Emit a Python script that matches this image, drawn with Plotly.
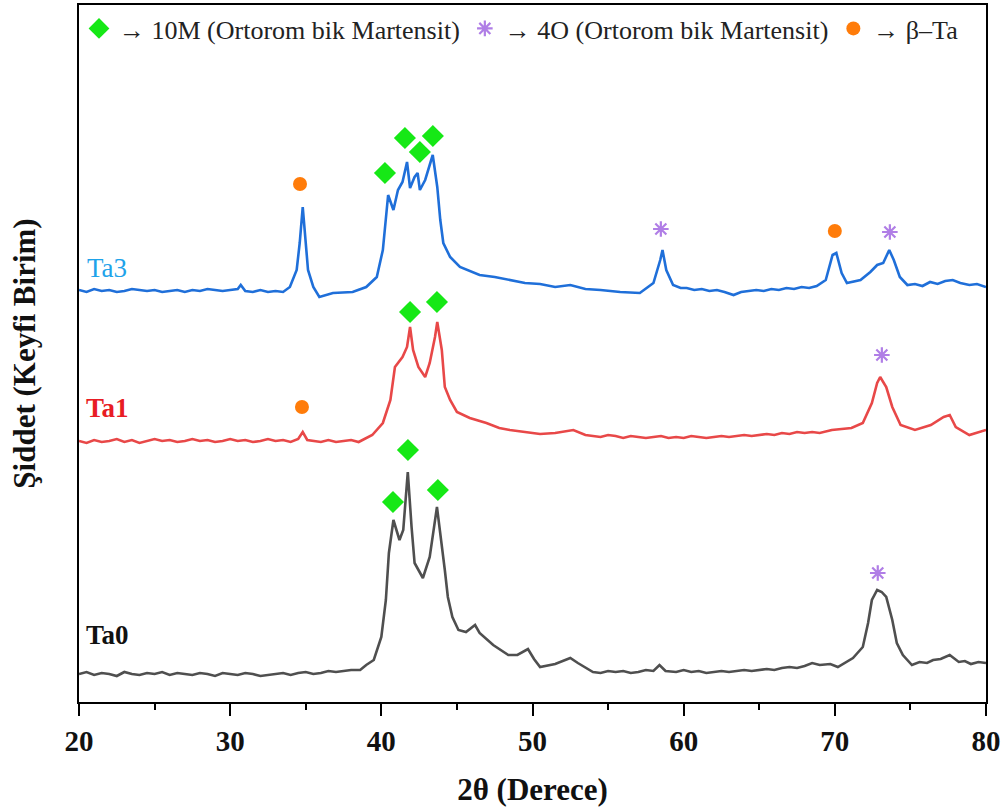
import plotly.graph_objects as go

# ---------------- data ----------------
# 2-theta (degrees) and intensity (arbitrary units, patterns stacked)
ta0_x = [20.0, 20.5, 21.0, 21.5, 22.0, 22.5, 23.0, 23.5, 24.0, 24.5, 25.0, 25.5, 26.0, 26.5, 27.0,
         27.5, 28.0, 28.5, 29.0, 29.5, 30.0, 30.5, 31.0, 31.5, 32.0, 32.5, 33.0, 33.5, 34.0, 34.5,
         35.0, 35.5, 36.0, 36.5, 37.0, 37.5, 38.0, 38.6, 39.0, 39.5, 40.0, 40.3, 40.5, 40.8, 41.2,
         41.45, 41.75, 42.0, 42.2, 42.75, 43.2, 43.68, 43.95, 44.2, 44.4, 44.7, 45.1, 45.6, 46.2,
         46.5, 47.4, 48.4, 49.0, 49.7, 50.1, 50.5, 51.5, 52.5, 53.0, 54.0, 54.5, 55.0, 55.5, 56.0,
         56.5, 57.0, 57.5, 58.0, 58.4, 58.8, 59.5, 60.0, 60.5, 61.0, 61.5, 62.0, 62.5, 63.0, 63.5,
         64.0, 64.5, 65.0, 65.5, 66.0, 66.5, 67.0, 67.5, 68.0, 68.5, 69.0, 69.7, 70.2, 71.2,
         71.85, 72.2, 72.45, 72.8, 73.1, 73.4, 73.8, 74.1, 74.5, 75.1, 75.6, 76.1, 76.5, 77.0,
         77.6, 78.2, 78.6, 79.0, 79.5, 80.0]
ta0_y = [28, 30, 27, 29, 28, 26, 30, 28, 27, 29, 28, 30, 27, 29, 28,
         27, 29, 28, 26, 29, 28, 27, 29, 28, 26, 27, 28, 29, 27, 29,
         30, 28, 29, 31, 30, 31, 32, 32, 37, 42, 65, 102, 149, 182, 162,
         172, 230, 175, 139, 124, 145, 195, 165, 132, 105, 85, 72, 70, 77,
         69, 57, 47, 47, 53, 43, 35, 38, 44, 39, 30, 29, 31, 30, 31,
         29, 30, 32, 31, 37, 31, 30, 32, 30, 31, 29, 30, 31, 30, 31,
         32, 31, 32, 33, 32, 34, 35, 34, 36, 39, 37, 38, 35, 44,
         55, 79, 102, 112, 110, 105, 82, 59, 47, 37, 40, 39, 42, 43,
         47, 40, 41, 38, 40, 39]

ta1_x = [20.0, 20.5, 21.0, 21.5, 22.0, 22.5, 23.0, 23.5, 24.0, 24.5, 25.0, 25.5, 26.0, 26.5, 27.0,
         27.5, 28.0, 28.5, 29.0, 29.5, 30.0, 30.5, 31.0, 31.5, 32.0, 32.5, 33.0, 33.5, 34.0, 34.5,
         34.8, 35.1, 35.5, 36.0, 36.5, 37.0, 37.5, 38.0, 38.5, 39.4, 40.1, 40.6, 40.9, 41.4, 41.7,
         41.9, 42.1, 42.45, 42.9, 43.2, 43.55, 43.7, 44.0, 44.2, 44.55, 45.0, 45.85, 46.95, 47.8,
         48.5, 49.5, 50.5, 51.5, 52.7, 53.5, 54.0, 54.5, 55.0, 55.5, 56.0, 56.5, 57.0, 57.5, 58.0,
         58.5, 59.0, 59.5, 60.0, 60.5, 61.0, 61.5, 62.0, 62.5, 63.0, 63.5, 64.0, 64.5, 65.0, 65.5,
         66.0, 66.5, 67.0, 67.5, 68.0, 68.5, 69.0, 69.8, 71.1, 71.85, 72.45, 72.8, 73.0, 73.4,
         73.8, 74.35, 75.3, 76.35, 77.2, 77.6, 78.0, 78.9, 80.0]
ta1_y = [261, 259, 262, 260, 261, 263, 260, 262, 259, 261, 263, 261, 262, 260, 261,
         263, 261, 262, 260, 261, 263, 261, 262, 260, 261, 263, 261, 262, 260, 263,
         270, 262, 261, 260, 262, 260, 261, 262, 260, 267, 279, 302, 335, 345, 355,
         375, 352, 335, 325, 339, 365, 380, 352, 315, 302, 290, 284, 279, 274,
         272, 270, 268, 269, 272, 267, 266, 265, 267, 266, 264, 266, 265, 264, 265,
         266, 264, 265, 264, 266, 265, 264, 265, 266, 265, 266, 267, 266, 267, 268,
         267, 269, 268, 270, 269, 270, 269, 272, 274, 279, 299, 319, 325, 315,
         295, 277, 272, 277, 285, 287, 275, 267, 272]

ta3_x = [20.0, 20.5, 21.0, 21.5, 22.0, 22.5, 23.0, 23.5, 24.0, 24.5, 25.0, 25.5, 26.0, 26.5, 27.0,
         27.5, 28.0, 28.5, 29.0, 29.5, 30.0, 30.5, 30.7, 31.0, 31.5, 32.0, 32.5, 33.0, 33.5,
         33.95, 34.4, 34.6, 34.8, 34.95, 35.15, 35.5, 35.9, 36.8, 38.1, 39.0, 39.7, 40.1, 40.35,
         40.45, 40.8, 41.1, 41.4, 41.7, 41.9, 42.2, 42.4, 42.55, 42.9, 43.4, 43.7, 43.9, 44.1,
         44.55, 45.2, 46.1, 46.5, 47.5, 48.5, 49.5, 50.5, 51.5, 52.5, 53.5, 54.5, 55.8, 57.1,
         58.0, 58.45, 58.6, 58.85, 59.3, 59.8, 60.2, 60.7, 61.2, 61.7, 62.2, 62.7, 63.3, 63.8,
         64.3, 64.8, 65.3, 65.8, 66.3, 66.8, 67.3, 67.8, 68.3, 68.8, 69.4, 69.85, 70.1,
         70.45, 70.8, 71.7, 72.35, 72.8, 73.2, 73.6, 73.9, 74.3, 74.8, 75.3, 75.8, 76.3, 76.8,
         77.3, 77.8, 78.3, 78.9, 79.4, 80.0]
ta3_y = [412, 410, 413, 411, 412, 410, 411, 413, 412, 411, 412, 410, 411, 412, 410,
         412, 411, 413, 412, 411, 412, 413, 417, 411, 410, 412, 410, 411, 410,
         415, 432, 459, 495, 465, 432, 415, 405, 409, 410, 415, 425, 452, 492,
         507, 492, 512, 520, 540, 514, 525, 529, 512, 522, 547, 515, 482, 459,
         445, 435, 429, 427, 425, 422, 419, 418, 415, 417, 413, 412, 410, 409,
         419, 442, 452, 432, 417, 414, 414, 412, 413, 411, 412, 410, 407, 410,
         411, 412, 411, 413, 412, 414, 413, 415, 414, 416, 422, 447, 449,
         429, 419, 422, 430, 437, 439, 452, 442, 425, 417, 418, 416, 420, 418,
         421, 422, 419, 417, 418, 415]

# phase markers
m10_x = [40.24, 41.56, 42.55, 43.41, 41.9, 43.68, 40.77, 41.76, 43.74]
m10_y = [529, 564, 550, 566, 390, 400, 200, 252, 212]
m4o_x = [58.49, 73.64, 73.11, 72.84]
m4o_y = [473, 470, 347, 129]
bta_x = [34.62, 70.0, 34.75]
bta_y = [518, 471, 295]

legend_names = ["\u2192 10M (Ortorom bik Martensit)",
                "\u2192 4O (Ortorom bik Martensit)",
                "\u2192 \u03b2\u2013Ta"]
series_labels = ["Ta3", "Ta1", "Ta0"]
x_ticks = [20, 30, 40, 50, 60, 70, 80]

FONT = "Liberation Serif, Times New Roman, serif"

fig = go.Figure()
line_w = 2.6
fig.add_trace(go.Scatter(x=ta3_x, y=ta3_y, mode="lines", line=dict(color="#1f6fd9", width=line_w),
                         showlegend=False, name="Ta3"))
fig.add_trace(go.Scatter(x=ta1_x, y=ta1_y, mode="lines", line=dict(color="#e84848", width=line_w),
                         showlegend=False, name="Ta1"))
fig.add_trace(go.Scatter(x=ta0_x, y=ta0_y, mode="lines", line=dict(color="#4f4f4f", width=line_w),
                         showlegend=False, name="Ta0"))

fig.add_trace(go.Scatter(x=m10_x, y=m10_y, mode="markers", name=legend_names[0],
                         marker=dict(symbol="diamond", size=17, color="#16e816")))
fig.add_trace(go.Scatter(x=m4o_x, y=m4o_y, mode="markers", name=legend_names[1],
                         marker=dict(symbol="asterisk-open", size=13, color="#b07ee6",
                                     line=dict(color="#b07ee6", width=2.2))))
fig.add_trace(go.Scatter(x=bta_x, y=bta_y, mode="markers", name=legend_names[2],
                         marker=dict(symbol="circle", size=14, color="#ff7c0a")))

# series labels
fig.add_annotation(x=20.4, y=434, text=series_labels[0], showarrow=False, xanchor="left",
                   font=dict(family=FONT, size=27, color="#1ea3ea"))
fig.add_annotation(x=20.3, y=294, text="<b>%s</b>" % series_labels[1], showarrow=False, xanchor="left",
                   font=dict(family=FONT, size=27, color="#e81c24"))
fig.add_annotation(x=20.3, y=67, text="<b>%s</b>" % series_labels[2], showarrow=False, xanchor="left",
                   font=dict(family=FONT, size=27, color="#111111"))

fig.update_layout(
    width=1004, height=809,
    margin=dict(l=79, r=18, t=5, b=107, autoexpand=False),
    paper_bgcolor="white", plot_bgcolor="white",
    font=dict(family=FONT, color="#111111"),
    legend=dict(orientation="h", x=0.0, xanchor="left", y=1.0, yanchor="top",
                font=dict(family=FONT, size=26, color="#222222"),
                bgcolor="rgba(0,0,0,0)", itemclick=False, tracegroupgap=0),
    showlegend=True,
)
fig.update_xaxes(range=[20, 80], tickvals=x_ticks, ticktext=[str(v) for v in x_ticks],
                 automargin=False,
                 showline=True, linecolor="black", linewidth=1.6, mirror=True,
                 ticks="outside", ticklen=12, tickwidth=1.6, tickcolor="black",
                 minor=dict(ticks="outside", ticklen=6, tickwidth=1.6, tickcolor="black", dtick=5),
                 showgrid=False, zeroline=False,
                 tickfont=dict(family=FONT, size=29, color="#111111", weight="bold"),
                 title=dict(text="<b>2\u03b8 (Derece)</b>", standoff=23,
                            font=dict(family=FONT, size=31, color="#111111")))
fig.update_yaxes(range=[0, 697], automargin=False,
                 showline=True, linecolor="black", linewidth=1.6, mirror=True,
                 showticklabels=False, ticks="", showgrid=False, zeroline=False,
                 title=dict(text="<b>\u015eiddet (Keyfi Birim)</b>", standoff=32,
                            font=dict(family=FONT, size=31, color="#111111")))

fig.write_html("out.html", config={"displayModeBar": False},
               post_script="document.body.style.margin='0px';document.body.style.padding='0px';")
